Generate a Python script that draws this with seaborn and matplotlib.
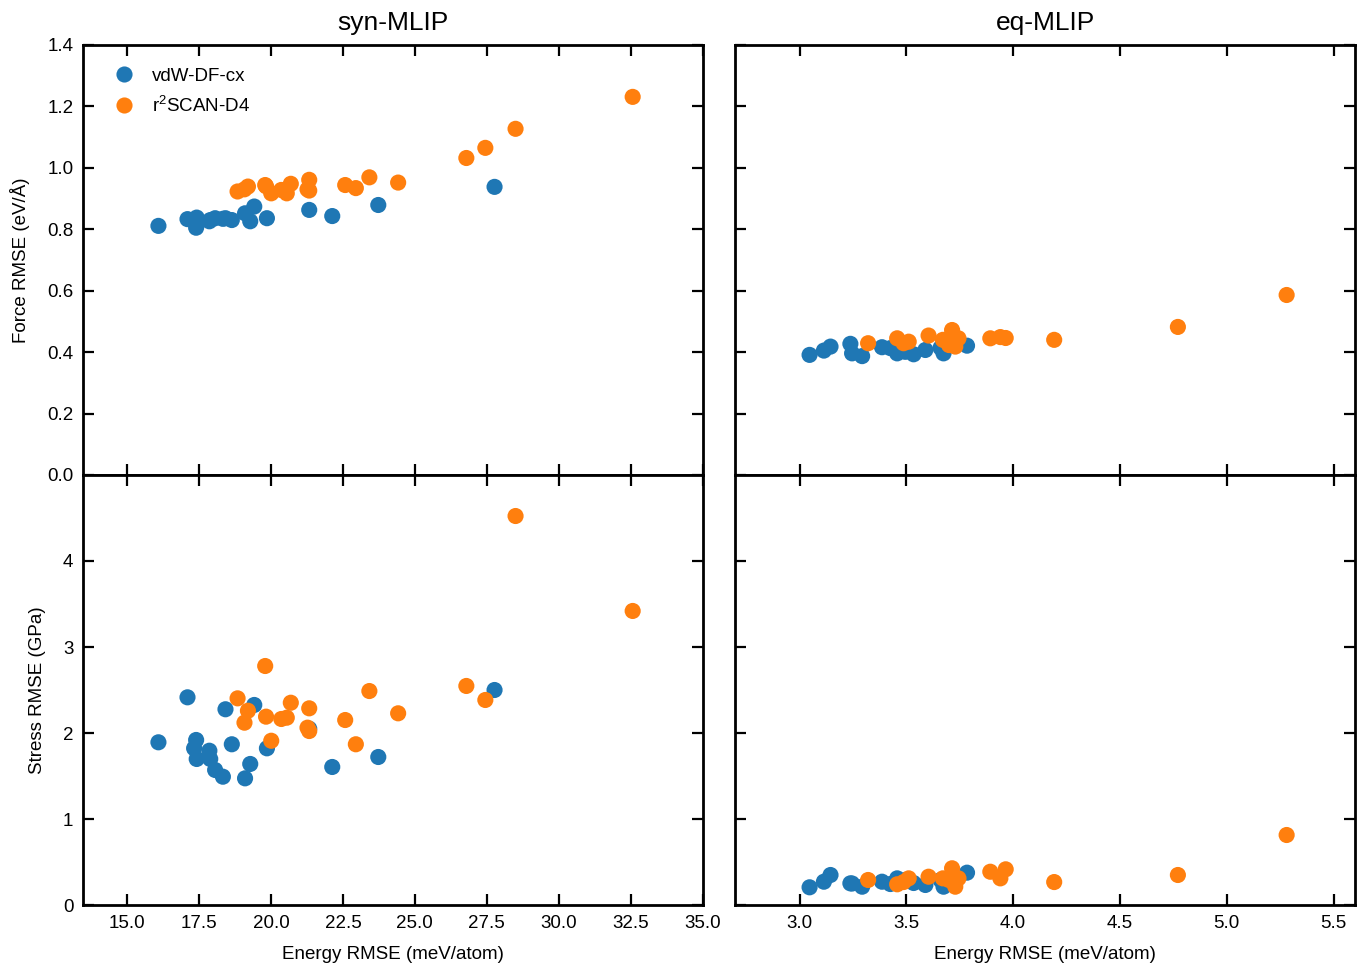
import numpy as np
import pandas as pd
import matplotlib
matplotlib.use("Agg")
import matplotlib.pyplot as plt
import seaborn as sns

sns.set_theme(style="white")
plt.rcParams["font.family"] = ["Liberation Sans", "DejaVu Sans"]
plt.rcParams["mathtext.fontset"] = "custom"
plt.rcParams["mathtext.rm"] = "Liberation Sans"
plt.rcParams["text.color"] = "black"
plt.rcParams["axes.labelcolor"] = "black"

# ---- syn-MLIP: vdW-DF-cx ----
syn_cx_energy = [16.09, 17.10, 17.33, 17.40, 17.42, 17.86, 17.89, 18.06, 18.33, 18.42,
                 18.64, 19.10, 19.28, 19.42, 19.86, 21.33, 22.13, 23.73, 27.77]
syn_cx_force = [0.811, 0.833, 0.830, 0.805, 0.838, 0.826, 0.830, 0.836, 0.834, 0.836,
                0.830, 0.852, 0.826, 0.874, 0.836, 0.863, 0.843, 0.879, 0.938]
syn_cx_stress = [1.892, 2.415, 1.822, 1.919, 1.698, 1.794, 1.698, 1.570, 1.492, 2.276,
                 1.869, 1.473, 1.640, 2.326, 1.822, 2.050, 1.605, 1.721, 2.500]

# ---- syn-MLIP: r2SCAN-D4 ----
syn_r2_energy = [18.84, 19.08, 19.20, 19.80, 19.83, 20.01, 20.36, 20.55, 20.69, 21.27,
                 21.33, 21.33, 22.58, 22.95, 23.42, 24.42, 26.79, 27.45, 28.50, 32.57]
syn_r2_force = [0.923, 0.930, 0.939, 0.944, 0.940, 0.917, 0.928, 0.917, 0.948, 0.930,
                0.926, 0.961, 0.944, 0.934, 0.969, 0.952, 1.032, 1.065, 1.127, 1.231]
syn_r2_stress = [2.403, 2.120, 2.259, 2.779, 2.190, 1.910, 2.163, 2.178, 2.352, 2.062,
                 2.023, 2.287, 2.151, 1.869, 2.488, 2.229, 2.547, 2.384, 4.523, 3.419]

# ---- eq-MLIP: vdW-DF-cx ----
eq_cx_energy = [3.047, 3.114, 3.145, 3.238, 3.246, 3.293, 3.386, 3.425, 3.457, 3.495,
                3.534, 3.589, 3.660, 3.674, 3.784]
eq_cx_force = [0.391, 0.405, 0.418, 0.427, 0.396, 0.387, 0.416, 0.413, 0.396, 0.401,
               0.393, 0.407, 0.414, 0.396, 0.421]
eq_cx_stress = [0.206, 0.271, 0.349, 0.252, 0.250, 0.213, 0.271, 0.244, 0.310, 0.291,
                0.256, 0.233, 0.290, 0.213, 0.376]

# ---- eq-MLIP: r2SCAN-D4 ----
eq_r2_energy = [3.321, 3.457, 3.487, 3.511, 3.604, 3.671, 3.700, 3.714, 3.729, 3.744,
                3.893, 3.940, 3.965, 4.192, 4.771, 5.280]
eq_r2_force = [0.429, 0.445, 0.429, 0.434, 0.454, 0.440, 0.423, 0.472, 0.418, 0.445,
               0.445, 0.449, 0.446, 0.440, 0.482, 0.586]
eq_r2_stress = [0.291, 0.241, 0.267, 0.310, 0.329, 0.310, 0.290, 0.427, 0.213, 0.310,
                0.387, 0.310, 0.415, 0.267, 0.349, 0.814]

functionals = ["vdW-DF-cx", "r$^2$SCAN-D4"]
colors = ["#1f77b4", "#ff7f0e"]
panel_titles = ["syn-MLIP", "eq-MLIP"]


def frame(e1, f1, s1, e2, f2, s2):
    d1 = pd.DataFrame({"energy": e1, "force": f1, "stress": s1, "functional": functionals[0]})
    d2 = pd.DataFrame({"energy": e2, "force": f2, "stress": s2, "functional": functionals[1]})
    return pd.concat([d1, d2], ignore_index=True)


data = [
    frame(syn_cx_energy, syn_cx_force, syn_cx_stress, syn_r2_energy, syn_r2_force, syn_r2_stress),
    frame(eq_cx_energy, eq_cx_force, eq_cx_stress, eq_r2_energy, eq_r2_force, eq_r2_stress),
]

fig, axes = plt.subplots(2, 2, figsize=(13.68, 9.67), dpi=100, sharex="col", sharey="row")
fig.subplots_adjust(left=0.0607, right=0.9905, top=0.9535, bottom=0.0641,
                    wspace=0.053, hspace=0.0)

palette = dict(zip(functionals, colors))
for col, df in enumerate(data):
    for row, quantity in enumerate(["force", "stress"]):
        ax = axes[row, col]
        sns.scatterplot(data=df, x="energy", y=quantity, hue="functional",
                        hue_order=functionals, palette=palette, s=135,
                        linewidth=0, alpha=1.0, ax=ax,
                        legend=(row == 0 and col == 0))
        ax.set_xlabel("")
        ax.set_ylabel("")
        for sp in ax.spines.values():
            sp.set_linewidth(2.0)
            sp.set_color("black")
        ax.tick_params(direction="in", length=8, width=1.6,
                       bottom=True, left=True, top=True, right=True,
                       labelsize=13.5, colors="black", pad=7)

axes[0, 0].set_title(panel_titles[0], fontsize=19, pad=11)
axes[0, 1].set_title(panel_titles[1], fontsize=19, pad=11)

axes[0, 0].set_xlim(13.47, 35.0)
axes[0, 0].set_xticks(np.arange(15.0, 35.01, 2.5))
axes[0, 0].xaxis.set_major_formatter(matplotlib.ticker.FormatStrFormatter("%.1f"))
axes[0, 1].set_xlim(2.70, 5.60)
axes[0, 1].set_xticks(np.arange(3.0, 5.51, 0.5))
axes[0, 1].xaxis.set_major_formatter(matplotlib.ticker.FormatStrFormatter("%.1f"))

axes[0, 0].set_ylim(0, 1.4)
axes[0, 0].set_yticks(np.arange(0, 1.41, 0.2))
axes[0, 0].yaxis.set_major_formatter(matplotlib.ticker.FormatStrFormatter("%.1f"))
axes[1, 0].set_ylim(0, 5)
axes[1, 0].set_yticks([0, 1, 2, 3, 4])
axes[1, 0].yaxis.set_major_formatter(matplotlib.ticker.FormatStrFormatter("%d"))

axes[0, 0].set_ylabel("Force RMSE (eV/Å)", fontsize=13.5, labelpad=12)
axes[1, 0].set_ylabel("Stress RMSE (GPa)", fontsize=13.5, labelpad=12)
axes[1, 0].set_xlabel("Energy RMSE (meV/atom)", fontsize=13.5, labelpad=10)
axes[1, 1].set_xlabel("Energy RMSE (meV/atom)", fontsize=13.5, labelpad=10)

handles, labels = axes[0, 0].get_legend_handles_labels()
axes[0, 0].legend(handles, labels, loc="upper left", frameon=False, fontsize=13.5,
                  handletextpad=0.5, borderaxespad=0.8, labelspacing=0.55,
                  markerscale=1.0)

fig.savefig("out.png", dpi=100)
